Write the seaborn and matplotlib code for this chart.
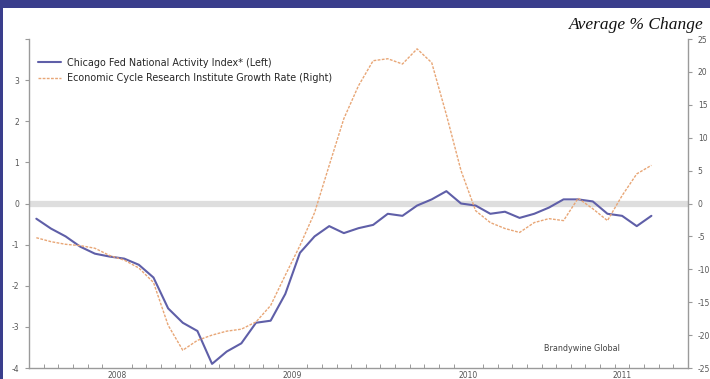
import numpy as np
import pandas as pd
import matplotlib
matplotlib.use("Agg")
import matplotlib.pyplot as plt
import seaborn as sns
from matplotlib.patches import Rectangle

# Monthly readings, January 2008 through July 2011
months = pd.date_range("2008-01-01", "2011-07-01", freq="MS").strftime("%Y-%m").tolist()
cfnai = [-0.37, -0.61, -0.80, -1.05, -1.22, -1.29, -1.34, -1.49, -1.80, -2.55,
         -2.90, -3.10, -3.90, -3.60, -3.40, -2.90, -2.85, -2.20, -1.20, -0.80,
         -0.55, -0.72, -0.60, -0.52, -0.25, -0.30, -0.05, 0.10, 0.30, 0.00,
         -0.05, -0.25, -0.20, -0.35, -0.25, -0.10, 0.10, 0.10, 0.05, -0.25,
         -0.30, -0.55, -0.30]
ecri = [-5.2, -5.8, -6.2, -6.4, -6.8, -7.9, -8.6, -9.8, -12.0, -18.5,
        -22.3, -20.8, -20.0, -19.4, -19.1, -18.0, -15.5, -10.9, -6.4, -1.4,
        5.8, 12.9, 17.9, 21.7, 22.0, 21.2, 23.5, 21.4, 13.5, 5.0,
        -1.1, -2.9, -3.8, -4.4, -2.9, -2.3, -2.6, 0.8, -0.8, -2.6,
        1.2, 4.5, 5.8]
year_labels = ["2008", "2009", "2010", "2011"]
left_ticks = [-4, -3, -2, -1, 0, 1, 2, 3, 4]
right_ticks = [-25, -20, -15, -10, -5, 0, 5, 10, 15, 20, 25]

df = pd.DataFrame({"month": months, "cfnai": cfnai, "ecri": ecri})
df["pos"] = np.arange(len(df)) + 0.5

sns.set_theme(style="white")
plt.rcParams["font.family"] = ["DejaVu Sans"]

fig = plt.figure(figsize=(7.10, 3.79), dpi=100)
fig.patch.set_facecolor("white")

# header band and left frame edge
navy = "#3a3e8c"
fig.add_artist(Rectangle((0, 1 - 8 / 379), 1, 8 / 379, transform=fig.transFigure,
                         facecolor=navy, edgecolor="none", zorder=0))
fig.add_artist(Rectangle((0, 0), 2.5 / 710, 1, transform=fig.transFigure,
                         facecolor=navy, edgecolor="none", zorder=0))

ax = fig.add_axes([29 / 710, 11 / 379, 659 / 710, 329 / 379])
ax2 = ax.twinx()

blue = "#5f5fa8"
orange = "#e8a676"

ax.axhline(0, color="#dedede", lw=4.5, zorder=1)
sns.lineplot(data=df, x="pos", y="cfnai", ax=ax, color=blue, lw=1.5,
             label="Chicago Fed National Activity Index* (Left)", legend=False, zorder=3)
sns.lineplot(data=df, x="pos", y="ecri", ax=ax2, color=orange, lw=1.0,
             linestyle=(0, (2, 1)), label="Economic Cycle Research Institute Growth Rate (Right)",
             legend=False, zorder=3)

ax.set_xlim(0, 45)
ax.set_ylim(-4, 4)
ax2.set_ylim(-25, 25)

spine_c = "#9a9a9a"
for a in (ax, ax2):
    a.spines["top"].set_visible(False)
    for s in ("left", "right", "bottom"):
        a.spines[s].set_color(spine_c)
        a.spines[s].set_linewidth(1.0)
    a.set_xlabel("")
    a.set_ylabel("")
ax.spines["right"].set_visible(False)
ax2.spines["left"].set_visible(False)
ax2.spines["bottom"].set_visible(False)

ax.set_yticks(left_ticks)
ax.set_yticklabels([str(t) if t != 4 else "" for t in left_ticks])
ax2.set_yticks(right_ticks)
ax2.set_yticklabels([str(t) for t in right_ticks])
ax.tick_params(axis="y", left=True, length=3, width=0.8, color=spine_c,
               labelsize=5.5, labelcolor="#555555", pad=4)
ax2.tick_params(axis="y", right=True, length=3, width=0.8, color=spine_c,
                labelsize=5.5, labelcolor="#555555", pad=4)

# year labels centred in each year span, month ticks along the axis
ax.set_xticks([6, 18, 30, 40.5])
ax.set_xticklabels(year_labels)
ax.set_xticks(np.arange(1, 45), minor=True)
ax.tick_params(axis="x", which="major", length=0, labelsize=5.5,
               labelcolor="#555555", pad=2)
ax.tick_params(axis="x", which="minor", bottom=True, direction="in",
               length=3, width=0.7, color=spine_c)

h1, l1 = ax.get_legend_handles_labels()
h2, l2 = ax2.get_legend_handles_labels()
ax.legend(h1 + h2, l1 + l2, loc="upper left", bbox_to_anchor=(0.008, 0.955),
          frameon=False, fontsize=6.9, handlelength=2.4, handletextpad=0.6,
          labelspacing=0.55, borderaxespad=0.0)

ax.text(0.839, 0.058, "Brandywine Global", transform=ax.transAxes,
        fontsize=5.8, color="#444444", ha="center", va="center")

fig.text(704 / 710, 1 - 25 / 379, "Average % Change", ha="right", va="center",
         fontsize=12.5, style="italic", family=["Liberation Serif", "DejaVu Serif"],
         color="#111111")

fig.savefig("out.png", dpi=100)
